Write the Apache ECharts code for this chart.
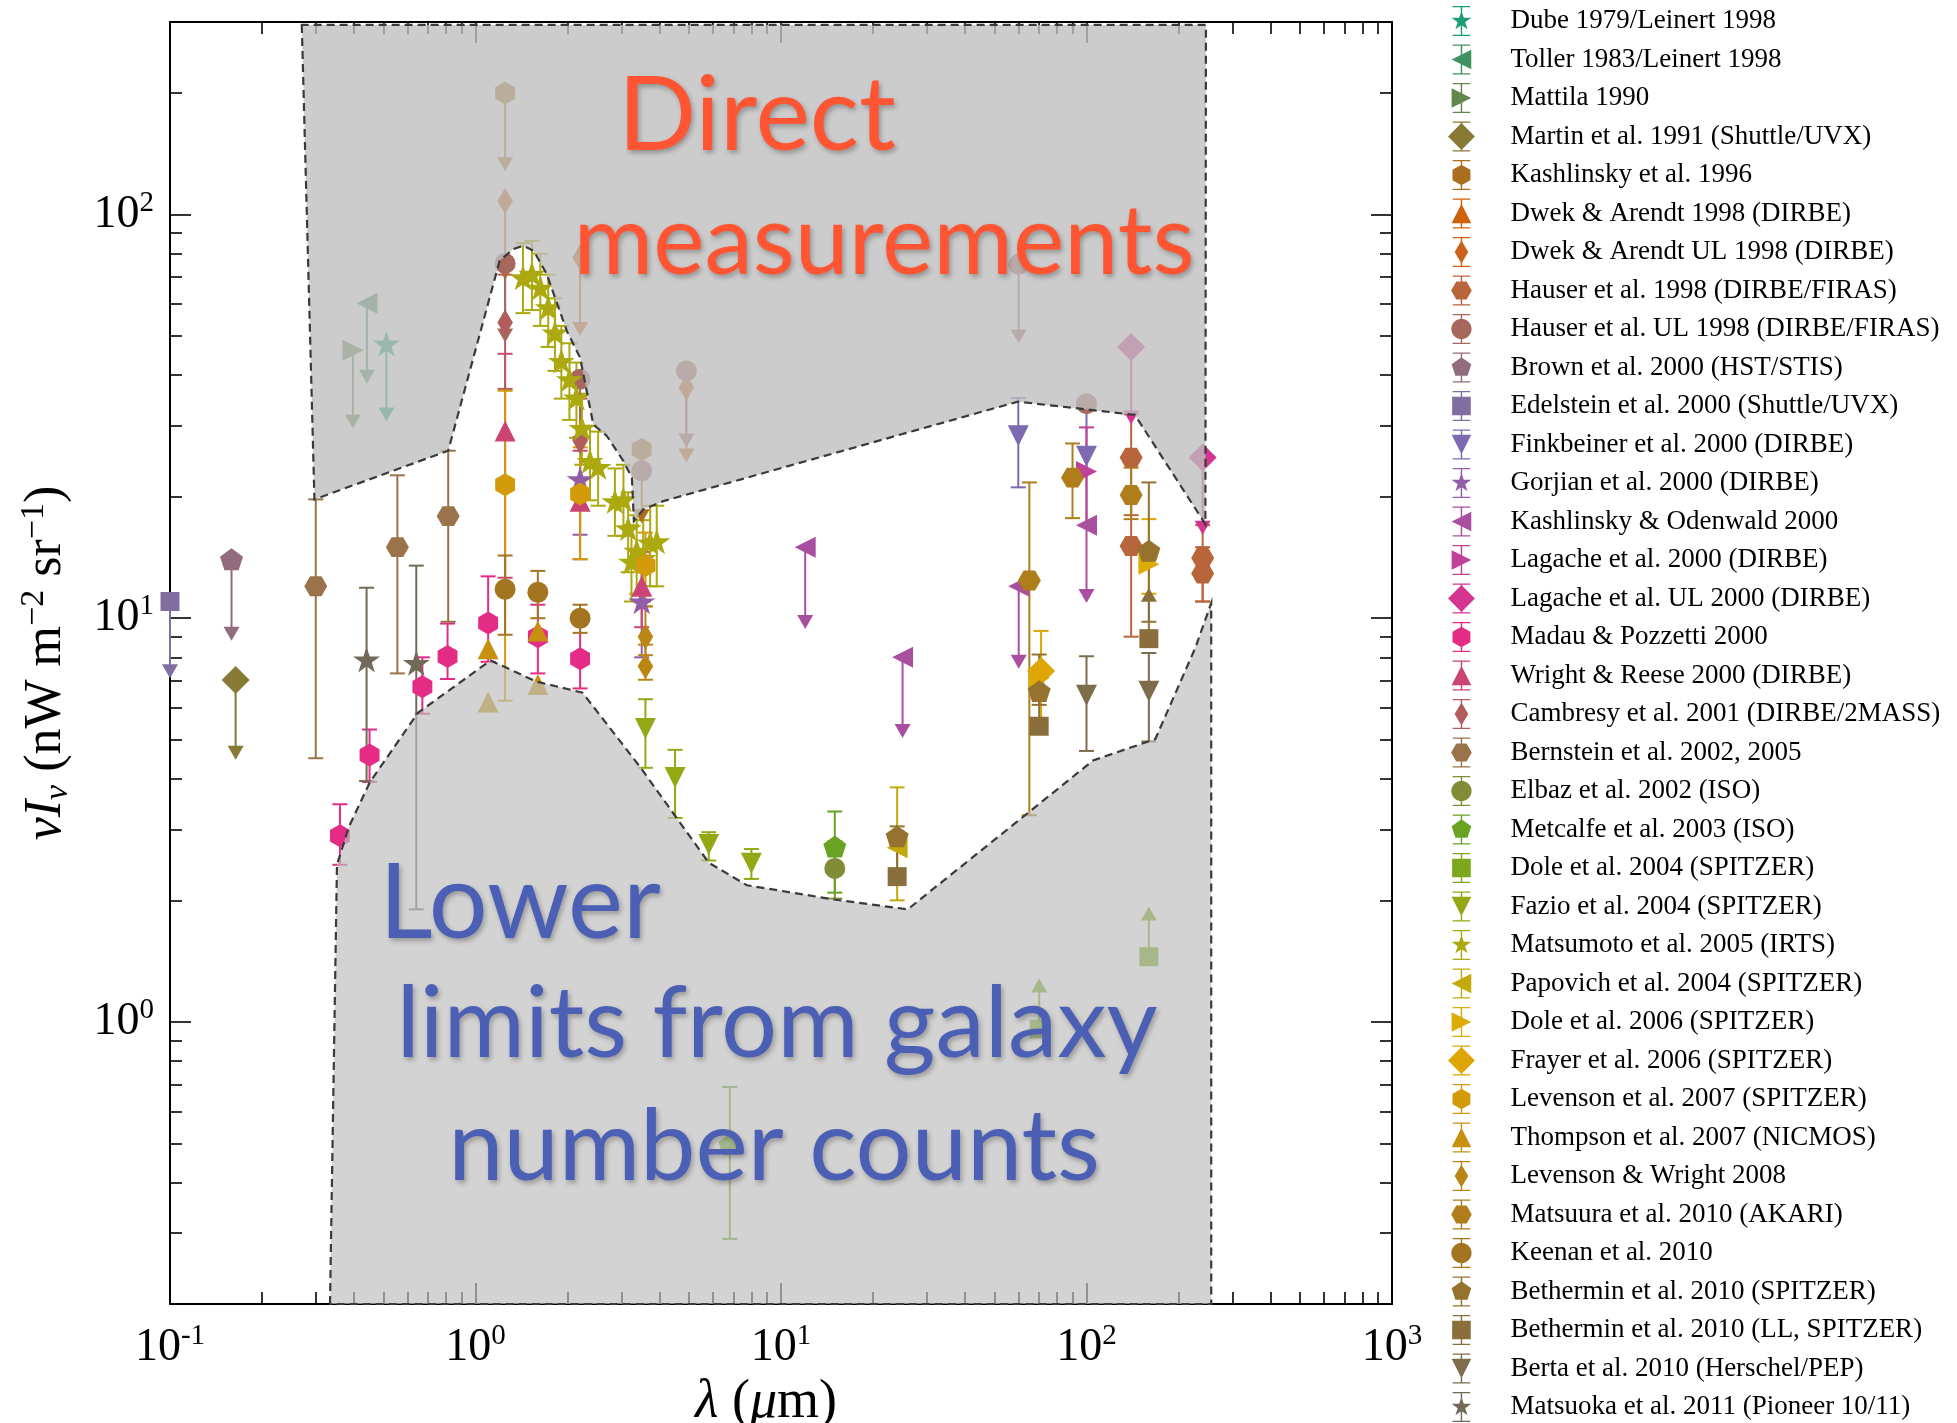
<!DOCTYPE html>
<html><head><meta charset="utf-8">
<script src="https://cdn.jsdelivr.net/npm/echarts@6/dist/echarts.min.js"></script>
<style>html,body{margin:0;padding:0;background:#fff}#c{width:1957px;height:1423px}</style>
</head><body><div id="c"></div>
<script>
// ---------------- DATA ----------------
const seriesNames = [
 'Dube 1979/Leinert 1998','Toller 1983/Leinert 1998','Mattila 1990','Martin et al. 1991 (Shuttle/UVX)',
 'Kashlinsky et al. 1996','Dwek & Arendt 1998 (DIRBE)','Dwek & Arendt UL 1998 (DIRBE)','Hauser et al. 1998 (DIRBE/FIRAS)',
 'Hauser et al. UL 1998 (DIRBE/FIRAS)','Brown et al. 2000 (HST/STIS)','Edelstein et al. 2000 (Shuttle/UVX)','Finkbeiner et al. 2000 (DIRBE)',
 'Gorjian et al. 2000 (DIRBE)','Kashlinsky & Odenwald 2000','Lagache et al. 2000 (DIRBE)','Lagache et al. UL 2000 (DIRBE)',
 'Madau & Pozzetti 2000','Wright & Reese 2000 (DIRBE)','Cambresy et al. 2001 (DIRBE/2MASS)','Bernstein et al. 2002, 2005',
 'Elbaz et al. 2002 (ISO)','Metcalfe et al. 2003 (ISO)','Dole et al. 2004 (SPITZER)','Fazio et al. 2004 (SPITZER)',
 'Matsumoto et al. 2005 (IRTS)','Papovich et al. 2004 (SPITZER)','Dole et al. 2006 (SPITZER)','Frayer et al. 2006 (SPITZER)',
 'Levenson et al. 2007 (SPITZER)','Thompson et al. 2007 (NICMOS)','Levenson & Wright 2008','Matsuura et al. 2010 (AKARI)',
 'Keenan et al. 2010','Bethermin et al. 2010 (SPITZER)','Bethermin et al. 2010 (LL, SPITZER)','Berta et al. 2010 (Herschel/PEP)',
 'Matsuoka et al. 2011 (Pioneer 10/11)'
];
// rows: [lambda (um), nuI_nu, errLow, errHigh, arrowTip]
const dube = [[0.511, 47.9, null, null, 30.7]];
const toller = [[0.441, 60.3, null, null, 38.1]];
const mattila = [[0.397, 46.1, null, null, 29.5]];
const martin = [[0.164, 7.03, null, null, 4.46]];
const kashlinsky96 = [[1.25, 200, null, null, 128], [3.5, 26.2, null, null, 17.2]];
const dwekArendt = [];
const dwekArendtUL = [[1.25, 108, null, null, 69], [2.2, 78.3, null, null, 50], [4.9, 37.3, null, null, 24.3]];
const hauser = [[140, 25, 18, 32, null], [140, 15.1, 9.0, 21, null], [240, 14.1, 11.0, 17.0, null], [240, 12.9, 11.0, 15.0, null]];
const hauserUL = [[1.25, 75.7, null, null, 48.2], [2.2, 39.1, null, null, 25.5], [3.5, 23.2, null, null, null],
                  [4.9, 41.0, null, null, 26.5], [60, 75.3, null, null, 47.9], [100, 34.0, null, null, null]];
const brown = [[0.159, 14.0, null, null, 8.8]];
const edelstein = [[0.1, 11.0, null, null, 7.1]];
const finkbeiner = [[59.8, 28.3, 21.1, 35.1, null], [100, 25.2, 17.0, 33.5, null]];
const gorjian = [[2.2, 22.1, 16.1, 28.1, null], [3.5, 11.0, 8.0, 14.3, null]];
const kashOdenwald = [[12, 15.0, null, null, 9.4], [25, 8.0, null, null, 5.05], [60, 12.0, null, null, 7.5], [100, 17.0, null, null, 10.9]];
const lagache = [[100, 23.1, 17.0, 29.7, null]];
const lagacheUL = [[140, 47, null, null, 30.2], [240, 25.0, null, null, 16.1]];
const madau = [[0.36, 2.89, 2.45, 3.46, null], [0.45, 4.58, 3.93, 5.3, null], [0.67, 6.76, 5.8, 8.0, null], [0.81, 8.04, 7.07, 9.7, null],
               [1.1, 9.73, 7.8, 12.7, null], [1.6, 9.0, 7.3, 10.8, null], [2.2, 7.94, 6.7, 9.93, null]];
const wrightReese = [[1.25, 29.1, 12.6, 45.2, null], [2.2, 19.5, 14.0, 26.0, null], [3.5, 12.0, 9.5, 14.6, null]];
const cambresy = [[1.25, 54, 37, 71, null], [2.2, 27.7, 21, 35, null]];
const bernstein = [[0.3, 12.0, 4.5, 19.7, null], [0.555, 15.0, 7.3, 22.6, null], [0.814, 17.9, 9.8, 26.0, null]];
const elbaz = [[15, 2.40, 2.02, 2.8, null]];
const metcalfe = [[15, 2.72, 2.09, 3.32, null], [6.8, 0.497, 0.29, 0.69, null]];
const dole04 = [[70, 0.96, null, null, 1.28], [160, 1.45, null, null, 1.93]];
const fazio = [[3.6, 5.33, 4.26, 6.3, null], [4.5, 4.03, 3.2, 4.72, null], [5.8, 2.75, 2.51, 2.95, null], [8.0, 2.47, 2.26, 2.68, null]];
const matsumoto = [
 [1.43, 69.9, 57, 85, null], [1.53, 71.3, 58, 86, null], [1.63, 65.9, 53, 80, null], [1.73, 58.9, 47, 71, null],
 [1.82, 51.0, 41, 62, null], [1.91, 43.4, 35, 53, null], [2.03, 39.1, 31, 48, null], [2.14, 35.2, 28, 43, null],
 [2.23, 29.6, 24, 36, null], [2.37, 24.5, 19.6, 30, null], [2.52, 23.7, 19, 29, null], [2.86, 19.5, 16, 23.5, null],
 [3.05, 19.7, 16, 24, null], [3.16, 16.7, 13, 20.5, null], [3.24, 13.8, 11, 17, null], [3.37, 14.7, 11.5, 18, null],
 [3.54, 14.1, 11, 17.5, null], [3.73, 15.4, 12, 19, null], [3.92, 15.5, 12, 19, null]];
const papovich = [[24, 2.70, 2.0, 3.81, null]];
const dole06 = [[70, 7.1, null, null, null], [160, 13.6, 11.5, 17.6, null]];
const frayer = [[71, 7.4, 5.5, 9.3, null]];
const levenson07 = [[1.25, 21.4, 6.25, 36.6, null], [2.2, 20.3, 14.0, 26.5, null], [3.6, 13.5, 10.7, 16.3, null]];
const thompson = [[1.1, 8.4, null, null, null], [1.6, 9.3, null, null, null], [1.1, 6.2, null, null, null], [1.6, 6.85, null, null, null]];
const levensonWright = [[3.6, 9.0, 8.1, 10.7, null], [3.6, 7.6, 7.04, 8.6, null]];
const matsuura = [[65, 12.4, 3.25, 21.7, null], [90, 22.3, 17.7, 27.1, null], [140, 20.2, 17.6, 23.6, null]];
const keenan = [[1.25, 11.8, 9.1, 14.3, null], [1.6, 11.6, 10.0, 13.1, null], [2.2, 10.0, 9.2, 10.8, null]];
const bethermin = [[24, 2.88, 2.7, 3.05, null], [70, 6.6, 6.1, 8.13, null], [160, 14.7, 9.8, 21.7, null]];
const betherminLL = [[24, 2.29, null, null, 3.08], [70, 5.4, null, null, 7.25], [160, 8.9, null, null, 11.9]];
const berta = [[100, 6.44, 4.69, 8.05, null], [160, 6.59, 4.95, 8.2, null]];
const matsuoka = [[0.44, 7.9, 3.95, 11.9, null], [0.64, 7.75, 1.9, 13.5, null]];

const allData = [dube, toller, mattila, martin, kashlinsky96, dwekArendt, dwekArendtUL, hauser, hauserUL, brown,
  edelstein, finkbeiner, gorjian, kashOdenwald, lagache, lagacheUL, madau, wrightReese, cambresy, bernstein,
  elbaz, metcalfe, dole04, fazio, matsumoto, papovich, dole06, frayer, levenson07, thompson, levensonWright,
  matsuura, keenan, bethermin, betherminLL, berta, matsuoka];

// shaded regions (boundary vertices)
const upperRegion = [[0.27, 295], [0.297, 19.7], [0.814, 26.0], [1.20, 76.9], [1.33, 82.1], [1.43, 83.7], [1.55, 81.4],
  [1.71, 71.2], [1.99, 51.5], [2.2, 44.2], [2.43, 30.2], [2.69, 28.3], [3.05, 24.5], [3.25, 22.3], [3.3, 17.4],
  [3.54, 18.6], [4.12, 19.5], [59.6, 34.4], [144, 31.9], [245, 17.1], [246, 295]];
const lowerRegion = [[0.334, 0.2], [0.352, 2.45], [0.385, 3.04], [0.4516, 3.93], [0.648, 5.83], [1.12, 7.86], [1.58, 6.97],
  [2.24, 6.54], [3.45, 4.29], [5.8, 2.48], [7.73, 2.18], [14.9, 2.01], [26, 1.90], [65.5, 3.33], [105, 4.44],
  [168, 5.02], [227, 8.44], [256, 10.9], [256, 0.2]];

const xMajorTicks = [0.1, 1, 10, 100, 1000];
const xMinorTicks = [0.2,0.3,0.4,0.5,0.6,0.7,0.8,0.9,2,3,4,5,6,7,8,9,20,30,40,50,60,70,80,90,200,300,400,500,600,700,800,900];
const yMajorTicks = [1, 10, 100];
const yMinorTicks = [0.2,0.3,0.4,0.5,0.6,0.7,0.8,0.9,2,3,4,5,6,7,8,9,20,30,40,50,60,70,80,90,200,300];

// ---------------- STYLE ----------------
const DARK2 = [[27,158,119],[217,95,2],[117,112,179],[231,41,138],[102,166,30],[230,171,2],[166,118,29],[102,102,102]];
function cmap(i){
  const t = i / 37 * 7; const k = Math.min(6, Math.floor(t)); const f = t - k;
  const a = DARK2[k], b = DARK2[k + 1];
  return 'rgb(' + [0,1,2].map(j => Math.round(a[j] + (b[j] - a[j]) * f)).join(',') + ')';
}
const colors = seriesNames.map((_, i) => cmap(i));

function regular(n, r, startDeg){ const o=[]; for(let k=0;k<n;k++){const a=(startDeg+k*360/n)*Math.PI/180;o.push([r*Math.cos(a), r*Math.sin(a)]);} return o; }
function starPts(){ const o=[]; for(let k=0;k<10;k++){const a=(-90+k*36)*Math.PI/180; const r=k%2?0.382:1; o.push([r*Math.cos(a), r*Math.sin(a)]);} return o; }
function rectPts(x0,y0,x1,y1){ return [[x0,y0],[x1,y0],[x1,y1],[x0,y1]]; }
function orient(pts){ let s=0; for(let i=0;i<pts.length;i++){const a=pts[i],b=pts[(i+1)%pts.length]; s+=a[0]*b[1]-b[0]*a[1];} return s<0 ? pts.slice().reverse() : pts; }
function sub(pts){ return 'M' + pts.map(p => p[0].toFixed(4) + ',' + p[1].toFixed(4)).join(' L') + ' Z'; }
function poly(pts){ return 'path://' + sub(orient(pts)); }

// marker shape, scatter size, legend scale
const MK = {
  star:[starPts(), 27, 1.0], ltri:[[[-1,0],[1,-1],[1,1]], 21, 0.95], rtri:[[[1,0],[-1,-1],[-1,1]], 21, 0.95],
  D:[[[0,-1],[1,0],[0,1],[-1,0]], 28, 1.3], h:[regular(6,1,-90), 23, 1.0], up:[[[0,-1],[1,1],[-1,1]], 21, 0.95],
  d:[[[0,-1],[0.6,0],[0,1],[-0.6,0]], 26, 1.1], H:[regular(6,1,0), 23, 1.0], o:[regular(36,1,0), 21, 0.98],
  p:[regular(5,1,-90), 23, 1.0], s:[rectPts(-1,-1,1,1), 19, 0.9], down:[[[0,1],[1,-1],[-1,-1]], 21, 0.95]
};
const MARKER_CYCLE = ['star','ltri','rtri','D','h','up','d','H','o','p','s','down'];
function legendIcon(key){
  const m = MK[key]; const k = m[2];
  const pts = m[0].map(p => [p[0]*k, p[1]*k]);
  return 'path://' + [orient(pts), rectPts(-0.07,-1.45,0.07,1.45), rectPts(-0.85,-1.45,0.85,-1.32), rectPts(-0.85,1.32,0.85,1.45)]
    .map(sub).join(' ');
}

const errItems = [], arrowItems = [];
allData.forEach((arr, i) => arr.forEach(p => {
  if (p[2] != null) errItems.push([p[0], p[2], p[3], i]);
  if (p[4] != null) arrowItems.push([p[0], p[1], p[4], i]);
}));

const scatterSeries = seriesNames.map((name, i) => {
  const key = MARKER_CYCLE[i % 12], m = MK[key];
  const sym = key === 'o' ? 'circle' : key === 's' ? 'rect' : poly(m[0]);
  return { type:'scatter', name, z:3, symbol:sym, symbolSize:m[1], symbolKeepAspect:true,
    itemStyle:{color:colors[i], opacity:1}, data: allData[i].map(p => [p[0], p[1]]), silent:true };
});

const errSeries = { type:'custom', z:2, silent:true, data:errItems, encode:{x:0, y:[1,2]},
  renderItem(params, api){
    const x=api.value(0), c=colors[api.value(3)];
    const a=api.coord([x, api.value(1)]), b=api.coord([x, api.value(2)]); const w=7.5;
    const st={stroke:c, lineWidth:2};
    return {type:'group', children:[
      {type:'line', shape:{x1:a[0],y1:a[1],x2:b[0],y2:b[1]}, style:st},
      {type:'line', shape:{x1:a[0]-w,y1:a[1],x2:a[0]+w,y2:a[1]}, style:st},
      {type:'line', shape:{x1:b[0]-w,y1:b[1],x2:b[0]+w,y2:b[1]}, style:st}]};
  }};
const arrowSeries = { type:'custom', z:2, silent:true, data:arrowItems, encode:{x:0, y:[1,2]},
  renderItem(params, api){
    const x=api.value(0), c=colors[api.value(3)];
    const a=api.coord([x, api.value(1)]), t=api.coord([x, api.value(2)]);
    const dir = t[1] > a[1] ? 1 : -1;
    return {type:'group', children:[
      {type:'line', shape:{x1:a[0],y1:a[1],x2:t[0],y2:t[1]-dir*8}, style:{stroke:c, lineWidth:2}},
      {type:'polygon', shape:{points:[[t[0]-8, t[1]-dir*14],[t[0]+8, t[1]-dir*14],[t[0], t[1]]]}, style:{fill:c}}]};
  }};
function regionSeries(pts, fill){
  return { type:'custom', z:5, silent:true, clip:false, data:[[1,1]],
    renderItem(params, api){
      return {type:'polygon', shape:{points: pts.map(p => api.coord(p))},
        style:{fill, stroke:'#3a3a3a', lineWidth:2.2, lineDash:[8,5]}};
    }};
}

const labelRich = { b:{fontFamily:'Liberation Serif', fontSize:46, color:'#000', lineHeight:52},
                    s:{fontFamily:'Liberation Serif', fontSize:29, color:'#000', verticalAlign:'top', lineHeight:29} };
function expFmt(v){ const e = Math.round(Math.log10(v)); return '{b|10}{s|' + (e < 0 ? '-' + (-e) : e) + '}'; }

function xAx(pos, ticks, len, label, line){
  const ax = {type:'log', logBase:10, min:0.1, max:1000, position:pos, gridIndex:0,
    axisLine:{show:line, onZero:false, lineStyle:{color:'#000', width:2}},
    axisTick:{show:true, inside:true, length:len, customValues:ticks, lineStyle:{color:'#000', width:1.6}},
    axisLabel:{show:false}, splitLine:{show:false}, minorTick:{show:false}};
  if (label){
    ax.axisLabel = {show:true, customValues:ticks, formatter:expFmt, rich:labelRich, margin:18};
    ax.name = '{it|λ}{n| (}{it|μ}{n|m)}'; ax.nameLocation='middle'; ax.nameGap=68;
    ax.nameTextStyle = {padding:[0,30,0,0], rich:{it:{fontFamily:'Liberation Serif', fontStyle:'italic', fontSize:54, color:'#000'},
                              n:{fontFamily:'Liberation Serif', fontSize:54, color:'#000'}}};
  }
  return ax;
}
function yAx(pos, ticks, len, label, line){
  const ax = {type:'log', logBase:10, min:0.2, max:300, position:pos, gridIndex:0,
    axisLine:{show:line, onZero:false, lineStyle:{color:'#000', width:2}},
    axisTick:{show:true, inside:true, length:len, customValues:ticks, lineStyle:{color:'#000', width:1.6}},
    axisLabel:{show:false}, splitLine:{show:false}, minorTick:{show:false}};
  if (label){
    ax.axisLabel = {show:true, customValues:ticks, formatter:expFmt, rich:labelRich, margin:16};
    ax.name = '{it|νI}{sub|ν}{n| (nW m}{sup|−2}{n| sr}{sup|−1}{n|)}';
    ax.nameLocation='middle'; ax.nameGap=95; ax.nameRotate=90;
    ax.nameTextStyle = {rich:{
      it:{fontFamily:'Liberation Serif', fontStyle:'italic', fontSize:52, color:'#000', lineHeight:58},
      sub:{fontFamily:'Liberation Serif', fontStyle:'italic', fontSize:34, color:'#000', verticalAlign:'bottom', lineHeight:34},
      n:{fontFamily:'Liberation Serif', fontSize:52, color:'#000', lineHeight:58},
      sup:{fontFamily:'Liberation Serif', fontSize:34, color:'#000', verticalAlign:'top', lineHeight:34}}};
  }
  return ax;
}

function bigText(text, cx, baseline, size, color, k){
  return {type:'text', z:100, silent:true, style:{text, x:cx, y:baseline - k*size,
    font: size + 'px Lato', fontFamily:'Lato', fontSize:size, fill:color,
    align:'center', verticalAlign:'middle', textAlign:'center', textVerticalAlign:'middle',
    shadowBlur:5, shadowColor:'rgba(0,0,0,0.28)', shadowOffsetX:2, shadowOffsetY:3,
    textShadowBlur:5, textShadowColor:'rgba(0,0,0,0.28)', textShadowOffsetX:2, textShadowOffsetY:3}};
}

const chart = echarts.init(document.getElementById('c'), null, {renderer:'canvas'});
chart.setOption({
  animation:false, backgroundColor:'#fff',
  grid:{left:170, right:565, top:22, bottom:119, containLabel:false, outerBoundsMode:'none'},
  xAxis:[xAx('bottom', xMajorTicks, 21, true, true), xAx('bottom', xMinorTicks, 12, false, false),
         xAx('top', xMajorTicks, 21, false, true), xAx('top', xMinorTicks, 12, false, false)],
  yAxis:[yAx('left', yMajorTicks, 21, true, true), yAx('left', yMinorTicks, 12, false, false),
         yAx('right', yMajorTicks, 21, false, true), yAx('right', yMinorTicks, 12, false, false)],
  legend:{orient:'vertical', left:1448, top:6, padding:0, itemWidth:28, itemHeight:30, itemGap:8.5,
    selectedMode:false, symbolKeepAspect:true,
    data:seriesNames.map((name, i) => ({name, icon:legendIcon(MARKER_CYCLE[i % 12])})),
    textStyle:{fontFamily:'Liberation Serif', fontSize:27, lineHeight:27, color:'#000', padding:[0,0,0,30]}},
  graphic:[
    bigText('Direct', 757, 150.7, 103, '#ff5533', 0.33),
    bigText('measurements', 884, 274.5, 97, '#ff5533', 0.33),
    bigText('Lower', 520, 936, 104, '#4b5fb4', 0.30),
    bigText('limits from galaxy', 777, 1055, 99, '#4b5fb4', 0.30),
    bigText('number counts', 774, 1178, 99, '#4b5fb4', 0.30)
  ],
  series:[errSeries, arrowSeries].concat(scatterSeries).concat([
    regionSeries(upperRegion, 'rgba(190,190,190,0.785)'),
    regionSeries(lowerRegion, 'rgba(190,190,190,0.68)')])
});
</script></body></html>
